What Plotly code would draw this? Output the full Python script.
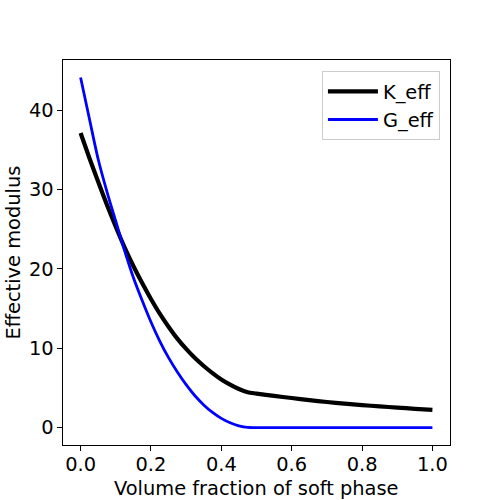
import plotly.graph_objects as go

# Volume fraction of soft phase
phi = [0.0, 0.025, 0.05, 0.075, 0.1, 0.125, 0.15, 0.175, 0.2, 0.225, 0.25,
       0.275, 0.3, 0.325, 0.35, 0.375, 0.4, 0.425, 0.45, 0.475, 0.5, 0.55,
       0.6, 0.65, 0.7, 0.75, 0.8, 0.85, 0.9, 0.95, 1.0]

K_eff = [37.1, 33.95, 30.95, 28.05, 25.3, 22.7, 20.35, 18.2, 16.2, 14.35, 12.7,
         11.2, 9.9, 8.75, 7.75, 6.85, 6.05, 5.4, 4.85, 4.45, 4.28, 3.98,
         3.72, 3.45, 3.22, 3.01, 2.83, 2.66, 2.51, 2.36, 2.22]

G_eff = [44.1, 38.9, 33.8, 29.7, 26.0, 22.3, 18.9, 16.0, 13.3, 10.9, 8.8,
         7.0, 5.4, 4.0, 2.85, 1.9, 1.15, 0.6, 0.22, 0.02, 0.0, 0.0,
         0.0, 0.0, 0.0, 0.0, 0.0, 0.0, 0.0, 0.0, 0.0]

x_title = "Volume fraction of soft phase"
y_title = "Effective modulus"

FONT = "DejaVu Sans"
FS = 19.4

fig = go.Figure()
fig.add_trace(go.Scatter(x=phi, y=K_eff, mode="lines", name="K_eff",
                         line=dict(color="black", width=4.2, shape="spline", smoothing=0.8)))
fig.add_trace(go.Scatter(x=phi, y=G_eff, mode="lines", name="G_eff",
                         line=dict(color="blue", width=2.8, shape="spline", smoothing=0.8)))

axis_common = dict(
    showgrid=False, zeroline=False, showline=True, mirror=True,
    linecolor="black", linewidth=1.1, ticks="outside", ticklen=4.5,
    tickcolor="black", tickwidth=1.1, automargin=False,
    tickfont=dict(family=FONT, size=FS, color="black"),
)

fig.update_layout(
    width=500, height=500,
    margin=dict(l=62.5, r=50, t=60, b=55),
    paper_bgcolor="white", plot_bgcolor="white",
    font=dict(family=FONT, size=FS, color="black"),
    showlegend=True,
    legend=dict(x=0.974, y=0.971, xanchor="right", yanchor="top",
                bgcolor="white", bordercolor="#cccccc", borderwidth=1,
                font=dict(family=FONT, size=FS, color="black"),
                itemwidth=50, tracegroupgap=0),
    xaxis=dict(range=[-0.05, 1.05], dtick=0.2, tick0=0, tickformat=".1f",
               ticklabelstandoff=-3, **axis_common),
    yaxis=dict(range=[-2.2, 46.3], dtick=10, tick0=0,
               **axis_common),
    annotations=[
        dict(text=x_title, xref="paper", yref="paper", x=0.5, y=-0.112,
             xanchor="center", yanchor="middle", showarrow=False,
             font=dict(family=FONT, size=FS, color="black")),
        dict(text=y_title, xref="paper", yref="paper", x=-0.129, y=0.5,
             xanchor="center", yanchor="middle", showarrow=False, textangle=-90,
             font=dict(family=FONT, size=FS, color="black")),
    ],
)

fig.write_html("out.html")
